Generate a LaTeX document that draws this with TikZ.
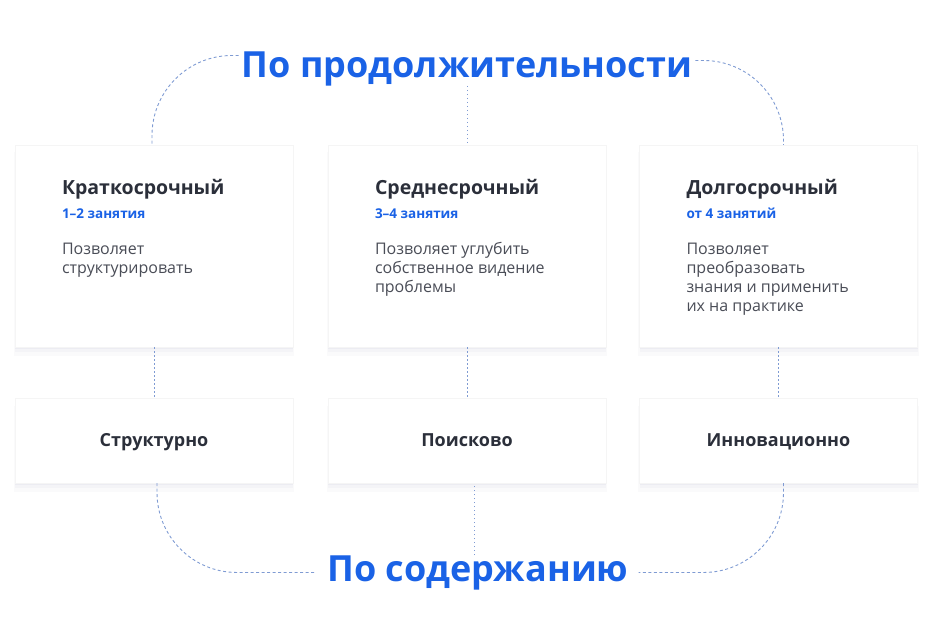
\documentclass[tikz,border=0pt]{standalone}
\usepackage{fontspec}
\setmainfont{Open Sans}
\usetikzlibrary{calc,shadows}

\definecolor{brand}{HTML}{1A62E6}
\definecolor{ink}{HTML}{2B2F3A}
\definecolor{bodytxt}{HTML}{4A4D57}
\definecolor{linkc}{HTML}{7F9BD3}

\begin{document}
\begin{tikzpicture}[
  x=1pt, y=-1pt,
  card/.style={fill=white, draw=black!4, inner sep=0pt, minimum width=278pt,
    general shadow={shadow xshift=0pt, shadow yshift=-8pt, shadow scale=1.01, opacity=0.02, fill=blue!30!black},
    general shadow={shadow xshift=0pt, shadow yshift=-5pt, opacity=0.025, fill=blue!30!black},
    general shadow={shadow xshift=0pt, shadow yshift=-2pt, opacity=0.03, fill=blue!30!black}},
  tallcard/.style={card, minimum height=202pt},
  lowcard/.style={card, minimum height=85pt},
  bigtitle/.style={font=\fontsize{36}{40}\selectfont\bfseries, text=brand, inner sep=0pt, anchor=base},
  head/.style={font=\fontsize{19.5}{22}\selectfont\bfseries, text=ink, inner sep=0pt, anchor=base west},
  sub/.style={font=\fontsize{13.5}{15}\selectfont\bfseries, text=brand, inner sep=0pt, anchor=base west},
  desc/.style={font=\fontsize{16}{19}\selectfont, text=bodytxt, inner sep=0pt, anchor=base west, align=left},
  kind/.style={font=\fontsize{18}{20}\selectfont\bfseries, text=ink, inner sep=0pt, anchor=base},
  curve/.style={draw=linkc, line width=0.9pt, dash pattern=on 3pt off 2.5pt, rounded corners=80pt},
  dots/.style={draw=linkc, line width=0.9pt, dash pattern=on 1.5pt off 2.5pt}
]
\useasboundingbox (0,0) rectangle (935,622);

% duration cards
\node[tallcard] (k1) at (154,246) {};
\node[tallcard] (k2) at (467,246) {};
\node[tallcard] (k3) at (778.5,246) {};

% content cards
\node[lowcard] (s1) at (154,440.5) {};
\node[lowcard] (s2) at (467,440.5) {};
\node[lowcard] (s3) at (778.5,440.5) {};

\node[head] (h1) at ($(k1.north west)+(47,50)$) {Краткосрочный};
\node[sub] (u1) at ($(k1.north west)+(47,74)$) {1–2 занятия};
\node[desc] (d1) at ($(k1.north west)+(47,129)$) {Позволяет\\структурировать};

\node[head] (h2) at ($(k2.north west)+(47,50)$) {Среднесрочный};
\node[sub] (u2) at ($(k2.north west)+(47,74)$) {3–4 занятия};
\node[desc] (d2) at ($(k2.north west)+(47,148)$) {Позволяет углубить\\собственное видение\\проблемы};

\node[head] (h3) at ($(k3.north west)+(47,50)$) {Долгосрочный};
\node[sub] (u3) at ($(k3.north west)+(47,74)$) {от 4 занятий};
\node[desc] (d3) at ($(k3.north west)+(47,167)$) {Позволяет\\преобразовать\\знания и применить\\их на практике};

\node[kind] (c1) at ($(s1.north)+(0,49)$) {Структурно};
\node[kind] (c2) at ($(s2.north)+(0,49)$) {Поисково};
\node[kind] (c3) at ($(s3.north)+(0,49)$) {Инновационно};

% group titles
\node[bigtitle] (t1) at (467,77) {По продолжительности};
\node[bigtitle] (t2) at (478,581) {По содержанию};

% connectors
\draw[curve] ([xshift=-3pt, yshift=13pt]t1.west) -| ([xshift=-2pt]k1.north);
\draw[curve] ([xshift=3pt, yshift=8pt]t1.east) -| ([xshift=5pt]k3.north);
\draw[dots] (t1.south -| k2.north) -- (k2.north);

\draw[dots] (k1.south) -- (s1.north);
\draw[dots] (k2.south) -- (s2.north);
\draw[dots] (k3.south) -- (s3.north);

\draw[curve] ([xshift=3pt]s1.south) |- ([xshift=-12pt]t2.west);
\draw[curve] ([xshift=5pt]s3.south) |- ([xshift=10pt]t2.east);
\draw[dots] ([xshift=-4pt]t2.north) -- ([xshift=-4pt]t2.north |- s2.south);
\end{tikzpicture}
\end{document}
